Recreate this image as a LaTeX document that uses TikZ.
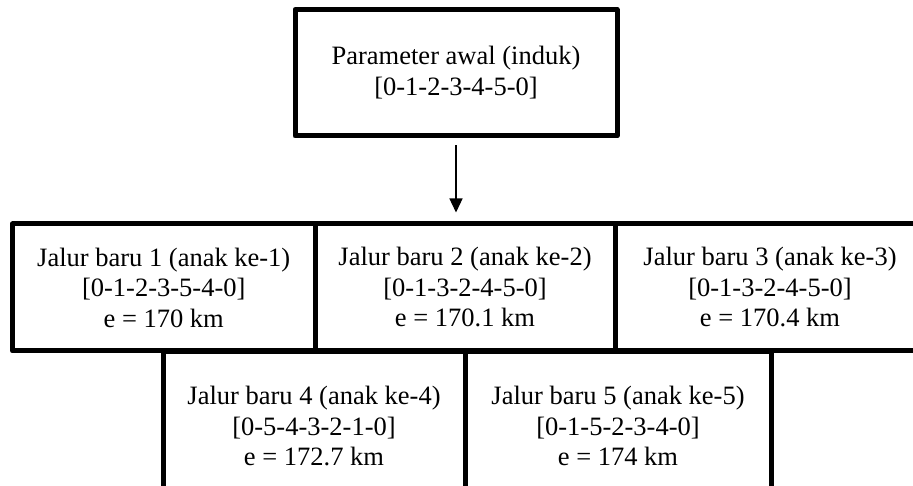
\documentclass[tikz,border=0pt]{standalone}
\usepackage{fontspec}
\setmainfont{Liberation Serif}
\usetikzlibrary{arrows.meta}
\begin{document}
\begin{tikzpicture}[x=1pt,y=1pt,
  box/.style={draw=black, line width=5pt, line join=round, fill=white, inner sep=0pt,
    align=center, font=\fontsize{26.5}{30.5}\selectfont},
  conn/.style={line width=1.3pt, -{Triangle[length=14pt,width=13pt]}}]
\useasboundingbox (0,0) rectangle (913,486);
\clip (0,0) rectangle (913,486);
\node[box, minimum width=322pt, minimum height=126.5pt] (top) at (456,413.25)
  {Parameter awal (induk)\\{[0-1-2-3-4-5-0]}};
\node[box, minimum width=302.5pt, minimum height=127pt] (b1) at (163.75,198.5)
  {Jalur baru 1 (anak ke-1)\\{[0-1-2-3-5-4-0]}\\e = 170 km};
\node[box, minimum width=300pt, minimum height=127pt] (b2) at (465,198.5)
  {Jalur baru 2 (anak ke-2)\\{[0-1-3-2-4-5-0]}\\e = 170.1 km};
\node[box, minimum width=310pt, minimum height=127pt] (b3) at (770,198.5)
  {Jalur baru 3 (anak ke-3)\\{[0-1-3-2-4-5-0]}\\e = 170.4 km};
\node[box, minimum width=302pt, minimum height=148pt] (b4) at (314,60)
  {Jalur baru 4 (anak ke-4)\\{[0-5-4-3-2-1-0]}\\e = 172.7 km};
\node[box, minimum width=306pt, minimum height=148pt] (b5) at (618,60)
  {Jalur baru 5 (anak ke-5)\\{[0-1-5-2-3-4-0]}\\e = 174 km};
\draw[conn, shorten <=7pt, shorten >=9pt] (top.south) -- (top.south |- b2.north);
\end{tikzpicture}
\end{document}
